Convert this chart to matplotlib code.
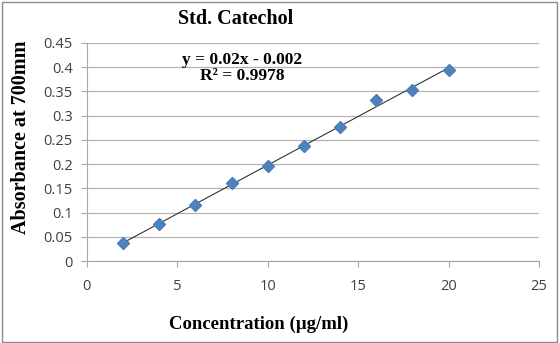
import numpy as np
import matplotlib.pyplot as plt

conc = [2, 4, 6, 8, 10, 12, 14, 16, 18, 20]
absorbance = [0.037, 0.076, 0.116, 0.161, 0.196, 0.237, 0.277, 0.332, 0.353, 0.394]
x_ticks = [0, 5, 10, 15, 20, 25]
y_ticks = [0, 0.05, 0.1, 0.15, 0.2, 0.25, 0.3, 0.35, 0.4, 0.45]
y_tick_labels = ["0", "0.05", "0.1", "0.15", "0.2", "0.25", "0.3", "0.35", "0.4", "0.45"]

fig = plt.figure(figsize=(5.6, 3.43), dpi=100)
ax = fig.add_axes([0.155, 0.239, 0.8075, 0.636])

# linear trendline
slope, intercept = np.polyfit(conc, absorbance, 1)
xs = np.array([conc[0], conc[-1]])
ax.plot(xs, slope * xs + intercept, color="#333333", lw=0.8, zorder=2)
ax.plot(conc, absorbance, "D", color="#4F81BD", markersize=6.5,
        markeredgecolor="#4A7EBB", zorder=3)

ax.set_xlim(0, 25)
ax.set_ylim(0, 0.45)
ax.set_xticks(x_ticks)
ax.set_yticks(y_ticks)
ax.set_yticklabels(y_tick_labels)
ax.grid(axis="y", color="#B3B3B3", lw=0.9)
ax.set_axisbelow(True)

for s in ["top", "right"]:
    ax.spines[s].set_visible(False)
for s in ["left", "bottom"]:
    ax.spines[s].set_color("#A6A6A6")
ax.tick_params(axis="x", direction="out", length=4, color="#A6A6A6", pad=9,
               labelsize=10.5, labelcolor="#404040")
ax.tick_params(axis="y", direction="out", length=4, color="#A6A6A6", pad=6,
               labelsize=10.5, labelcolor="#404040")
for lbl in ax.get_xticklabels() + ax.get_yticklabels():
    lbl.set_family("Open Sans")

serif = "Liberation Serif"
fig.text(0.42, 0.945, "Std. Catechol", family=serif, weight="bold",
         fontsize=14.5, ha="center", va="center")
fig.text(0.432, 0.826, "y = 0.02x - 0.002", family=serif, weight="bold",
         fontsize=12.5, ha="center", va="center")
fig.text(0.432, 0.777, "R² = 0.9978", family=serif, weight="bold",
         fontsize=12.5, ha="center", va="center")
fig.text(0.462, 0.053, "Concentration (µg/ml)", family=serif, weight="bold",
         fontsize=13.5, ha="center", va="center")
fig.text(0.038, 0.6, "Absorbance at 700mm", family=serif, weight="bold",
         fontsize=14.5, ha="center", va="center", rotation=90)

# chart border
fig.add_artist(plt.Rectangle((0.003, 0.004), 0.992, 0.99, transform=fig.transFigure,
                             fill=False, edgecolor="#8C8C8C", lw=1))

fig.savefig("out.png", dpi=100)
